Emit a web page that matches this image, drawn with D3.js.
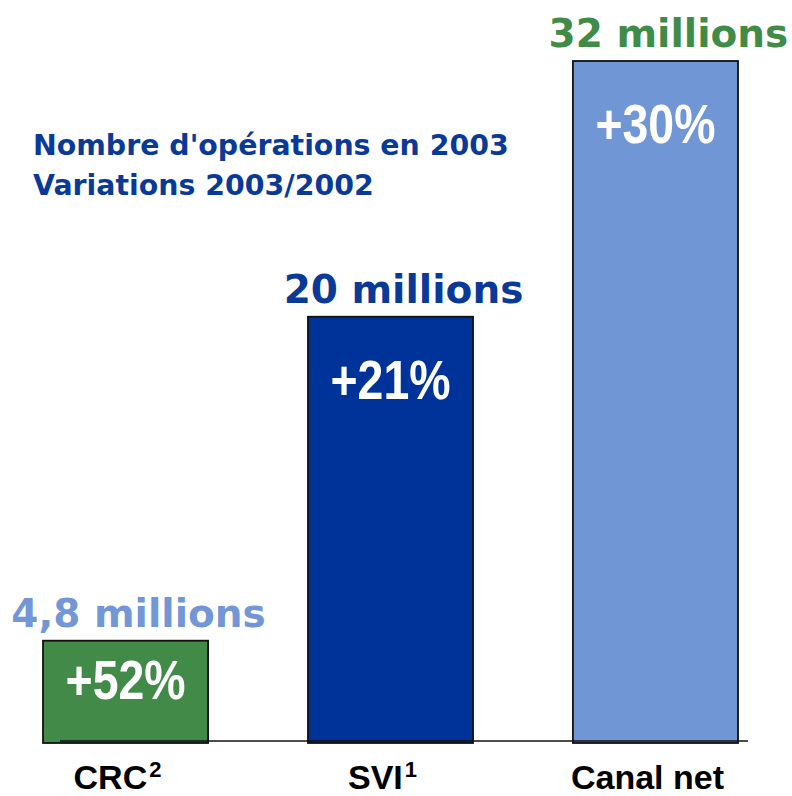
<!DOCTYPE html>
<html>
<head>
<meta charset="utf-8">
<script src="https://cdn.jsdelivr.net/npm/d3@7"></script>
<style>
  body { margin: 0; background: #fff; }
  svg { display: block; }
</style>
</head>
<body>
<div id="chart"></div>
<script>
const width = 792;
const height = 796;

// data
const categories = ["CRC", "SVI", "Canal net"];
const superscripts = ["2", "1", ""];
const volumes = [4.8, 20, 32];
const volumeLabels = ["4,8 millions", "20 millions", "32 millions"];
const variations = ["+52%", "+21%", "+30%"];
const barColors = ["#428a47", "#003399", "#7096d6"];
const labelColors = ["#7397d6", "#0a3a98", "#3f8b47"];
const titleLines = ["Nombre d'opérations en 2003", "Variations 2003/2002"];

const svg = d3.select("#chart").append("svg")
    .attr("width", width)
    .attr("height", height);

const x = d3.scaleBand()
    .domain(categories)
    .range([43, 738])
    .paddingInner(0.377)
    .paddingOuter(0);

const y = d3.scaleLinear()
    .domain([0, 32])
    .range([743, 61]);

// title
svg.append("g")
    .selectAll("text")
    .data(titleLines)
    .join("text")
      .attr("x", 33)
      .attr("y", (d, i) => 155 + i * 40)
      .attr("fill", "#0a3a98")
      .attr("font-family", "DejaVu Sans, Verdana, sans-serif")
      .attr("font-weight", "bold")
      .attr("font-size", 28.4)
      .text(d => d);

const rows = categories.map((c, i) => ({
  cat: c, sup: superscripts[i], value: volumes[i], label: volumeLabels[i],
  variation: variations[i], color: barColors[i], labelColor: labelColors[i]
}));

// bars
svg.append("g")
    .selectAll("rect")
    .data(rows)
    .join("rect")
      .attr("x", d => x(d.cat))
      .attr("y", d => y(d.value))
      .attr("width", x.bandwidth())
      .attr("height", d => y(0) - y(d.value))
      .attr("fill", d => d.color)
      .attr("stroke", "#111")
      .attr("stroke-width", 1.8);

// base line
svg.append("line")
    .attr("x1", 60)
    .attr("x2", 748)
    .attr("y1", y(0) - 2)
    .attr("y2", y(0) - 2)
    .attr("stroke", "#111")
    .attr("stroke-width", 1.5);

// volume labels above bars
svg.append("g")
    .selectAll("text")
    .data(rows)
    .join("text")
      .attr("x", d => x(d.cat) + x.bandwidth() / 2 + 13)
      .attr("y", d => y(d.value) - 14)
      .attr("text-anchor", "middle")
      .attr("fill", d => d.labelColor)
      .attr("font-family", "DejaVu Sans, Verdana, sans-serif")
      .attr("font-weight", "bold")
      .attr("font-size", 39)
      .text(d => d.label);

// variation labels inside bars
svg.append("g")
    .selectAll("text")
    .data(rows)
    .join("text")
      .attr("x", d => x(d.cat) + x.bandwidth() / 2)
      .attr("y", d => Math.min(y(d.value) + 82, (y(d.value) + y(0)) / 2 + 7))
      .attr("text-anchor", "middle")
      .attr("fill", "#fff")
      .attr("font-family", "Liberation Sans, Arial, sans-serif")
      .attr("font-weight", "bold")
      .attr("font-size", 56)
      .attr("textLength", 120)
      .attr("lengthAdjust", "spacingAndGlyphs")
      .text(d => d.variation);

// category labels
const cat = svg.append("g")
    .selectAll("text")
    .data(rows)
    .join("text")
      .attr("x", d => x(d.cat) + x.bandwidth() / 2 - 8)
      .attr("y", 789)
      .attr("text-anchor", "middle")
      .attr("fill", "#000")
      .attr("font-family", "Liberation Sans, Arial, sans-serif")
      .attr("font-weight", "bold")
      .attr("font-size", 34);

cat.append("tspan").text(d => d.cat);
cat.append("tspan")
    .attr("font-size", 22)
    .attr("dy", -12)
    .attr("dx", 2)
    .text(d => d.sup);
</script>
</body>
</html>
